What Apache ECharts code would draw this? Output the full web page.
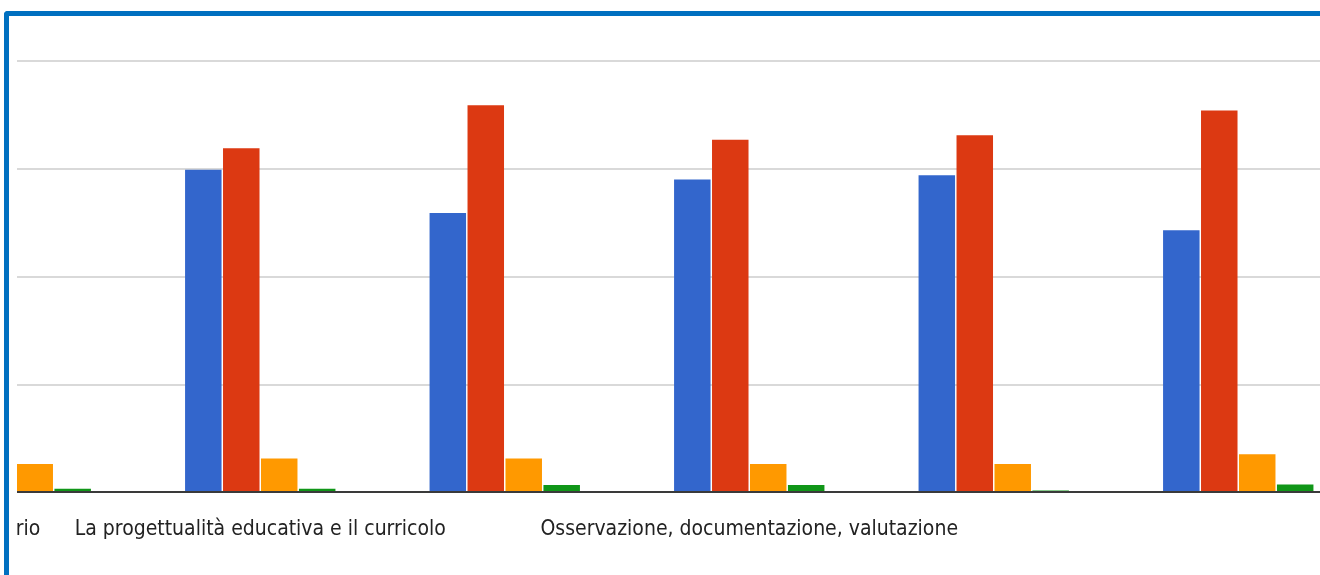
<!DOCTYPE html>
<html>
<head>
<meta charset="utf-8">
<script src="https://cdn.jsdelivr.net/npm/echarts@6/dist/echarts.min.js"></script>
<style>
  html, body { margin: 0; padding: 0; background: #fff; width: 1320px; height: 575px; overflow: hidden; }
  #frame { position: absolute; left: 4px; top: 11px; width: 1400px; height: 700px;
           border-left: 5px solid #0070c0; border-top: 5px solid #0070c0; border-top-left-radius: 4px; }
  #clip { position: absolute; left: 17px; top: 0; width: 1303px; height: 575px; overflow: hidden; }
  #chart { position: absolute; left: -137px; top: 0; width: 1500px; height: 575px; }
</style>
</head>
<body>
<div id="frame"></div>
<div id="clip"><div id="chart"></div></div>
<script>
// Categories (only some labels are visible in the reference; the first is cut off at the left edge)
const categories = ['rio', 'La progettualità educativa e il curricolo', '', 'Osservazione, documentazione, valutazione', '', ''];
const shownLabels = [0, 1, 3];
// Series values (scale 0–40 with gridlines every 10)
const seriesNames = ['Serie 1', 'Serie 2', 'Serie 3', 'Serie 4'];
const blueValues   = [null, 29.9, 25.9, 29.0, 29.4, 24.3];
const redValues    = [null, 31.9, 35.9, 32.7, 33.1, 35.4];
const orangeValues = [2.6, 3.1, 3.1, 2.6, 2.6, 3.5];
const greenValues  = [0.3, 0.3, 0.65, 0.65, 0.15, 0.7];
const colors = ['#3366cc', '#dc3912', '#ff9900', '#109618'];
const yTicks = [0, 10, 20, 30, 40];

const chart = echarts.init(document.getElementById('chart'), null, { renderer: 'canvas' });
const labelFont = "'Liberation Sans Narrow', 'Arial Narrow', 'DejaVu Sans Condensed', 'Roboto', sans-serif";
const xData = categories.map((c, i) => i === 0 ? { value: c, textStyle: { align: 'left' } } : c);
const allSeries = [blueValues, redValues, orangeValues, greenValues];

chart.setOption({
  animation: false,
  color: colors,
  grid: { left: 13.5, width: 1467, top: 61, height: 431, containLabel: false },
  xAxis: {
    type: 'category',
    data: xData,
    axisLine: { lineStyle: { color: '#3a3a3a', width: 2 } },
    axisTick: { show: false },
    axisLabel: {
      interval: (i) => shownLabels.indexOf(i) >= 0,
      color: '#222',
      fontFamily: labelFont,
      fontSize: 21,
      margin: 27
    },
    z: 5
  },
  yAxis: {
    type: 'value',
    min: yTicks[0],
    max: yTicks[yTicks.length - 1],
    interval: 10,
    axisLine: { show: false },
    axisTick: { show: false },
    axisLabel: { show: false },
    splitLine: { lineStyle: { color: '#d9d9d9', width: 2 } }
  },
  series: allSeries.map((vals, k) => ({
    name: seriesNames[k],
    type: 'bar',
    data: vals,
    barWidth: 36.5,
    barGap: '4%',
    itemStyle: { color: colors[k] }
  }))
});
</script>
</body>
</html>
